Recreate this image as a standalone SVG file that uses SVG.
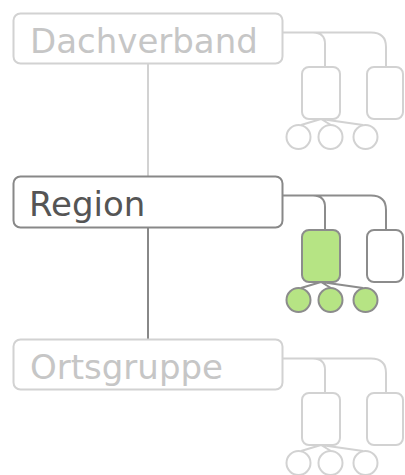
<svg xmlns="http://www.w3.org/2000/svg" width="405" height="475" viewBox="0 0 405 475">
<style>
.box{fill:#fff;stroke-width:2}
.lbl{font-family:"DejaVu Sans",sans-serif;font-size:34px}
.light .box{stroke:#d2d2d2}
.light .lbl{fill:#c6c6c6}
.dark .box{stroke:#888}
.dark .lbl{fill:#555}
.ln{fill:none;stroke-width:2}
.ico{fill:#fff;stroke-width:2}
.dark .ln,.dark .ico{stroke:#8c8c8c}
.light .ln,.light .ico{stroke:#d2d2d2}
.dark .g{fill:#b6e484}
</style>
<g id="connectors">
<line x1="148" y1="64" x2="148" y2="176" stroke="#d2d2d2" stroke-width="2"/>
<line x1="148" y1="228" x2="148" y2="339" stroke="#888" stroke-width="2"/>
</g>
<g id="dachverband" class="light">
<rect class="box" x="13.5" y="13.5" width="269" height="50" rx="7"/>
<text class="lbl" x="30" y="53">Dachverband</text>
<g>
<path class="ln" d="M283,32.5 H371 Q386,32.5 386,47 V67 M313,32.5 Q325,32.5 325,44 V67 M321,119 L301,125 M321,119 L331,125 M321,119 L363,125"/>
<rect class="ico g" x="302" y="67" width="38" height="52" rx="7"/>
<rect class="ico" x="367" y="67" width="36" height="52" rx="7"/>
<circle class="ico g" cx="298.5" cy="137" r="12"/>
<circle class="ico g" cx="330.5" cy="137" r="12"/>
<circle class="ico g" cx="365.5" cy="137" r="12"/>
</g>
</g>
<g id="region" class="dark">
<rect class="box" x="13.5" y="176.5" width="269" height="51" rx="7"/>
<text class="lbl" x="29" y="215.5">Region</text>
<g transform="translate(0,163)">
<path class="ln" d="M283,32.5 H371 Q386,32.5 386,47 V67 M313,32.5 Q325,32.5 325,44 V67 M321,119 L301,125 M321,119 L331,125 M321,119 L363,125"/>
<rect class="ico g" x="302" y="67" width="38" height="52" rx="7"/>
<rect class="ico" x="367" y="67" width="36" height="52" rx="7"/>
<circle class="ico g" cx="298.5" cy="137" r="12"/>
<circle class="ico g" cx="330.5" cy="137" r="12"/>
<circle class="ico g" cx="365.5" cy="137" r="12"/>
</g>
</g>
<g id="ortsgruppe" class="light">
<rect class="box" x="13.5" y="339.5" width="269" height="50" rx="7"/>
<text class="lbl" x="30" y="378.5">Ortsgruppe</text>
<g transform="translate(0,326)">
<path class="ln" d="M283,32.5 H371 Q386,32.5 386,47 V67 M313,32.5 Q325,32.5 325,44 V67 M321,119 L301,125 M321,119 L331,125 M321,119 L363,125"/>
<rect class="ico g" x="302" y="67" width="38" height="52" rx="7"/>
<rect class="ico" x="367" y="67" width="36" height="52" rx="7"/>
<circle class="ico g" cx="298.5" cy="137" r="12"/>
<circle class="ico g" cx="330.5" cy="137" r="12"/>
<circle class="ico g" cx="365.5" cy="137" r="12"/>
</g>
</g>
</svg>
